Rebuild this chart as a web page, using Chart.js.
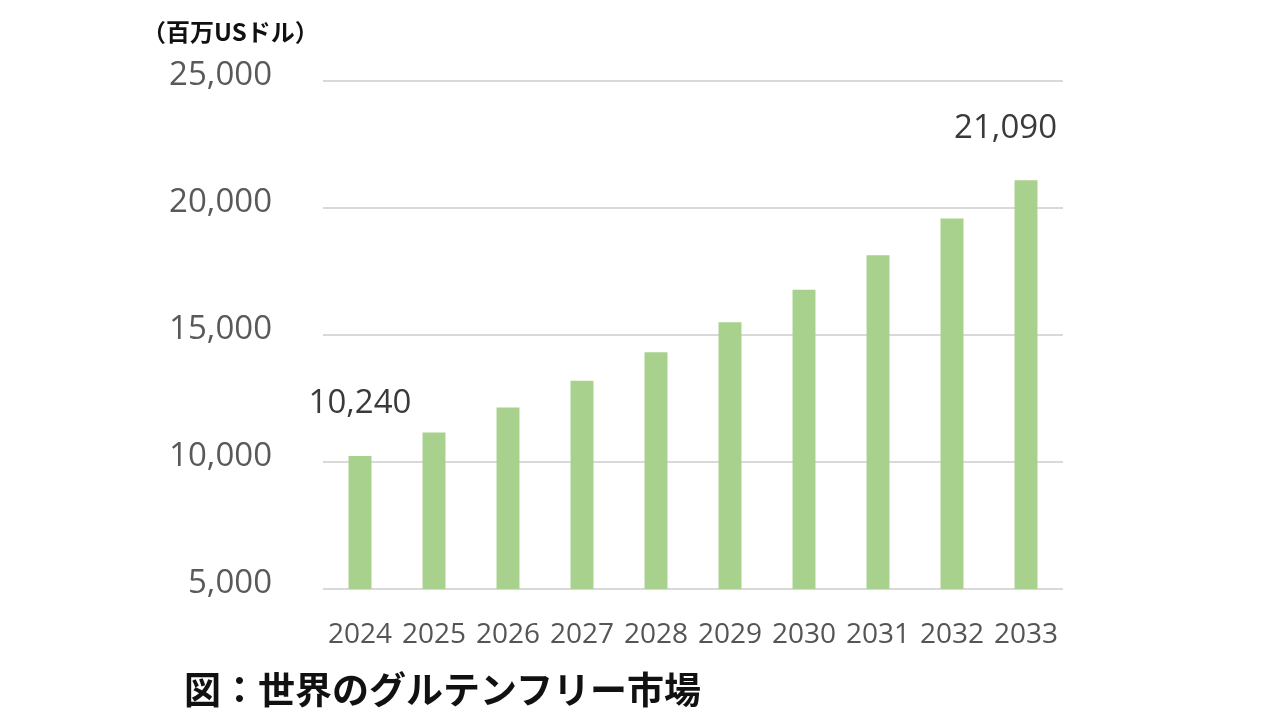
<!DOCTYPE html>
<html><head><meta charset="utf-8">
<script src="https://cdn.jsdelivr.net/npm/chart.js@4/dist/chart.umd.min.js"></script>
<style>
html,body{margin:0;padding:0;background:#fff;}
#wrap{position:relative;width:1280px;height:720px;}
#unit{position:absolute;left:142px;top:14px;font-family:"Noto Sans CJK JP";font-weight:700;font-size:24px;color:#111;line-height:34px;white-space:nowrap;}
#caption{position:absolute;left:184px;top:663px;font-family:"Noto Sans CJK JP";font-weight:700;font-size:37px;color:#111;line-height:50px;white-space:nowrap;}
canvas{position:absolute;left:0;top:0;}
</style></head><body>
<div id="wrap">
<canvas id="c" width="1280" height="720"></canvas>
<div id="unit">（百万USドル）</div>
<div id="caption">図：世界のグルテンフリー市場</div>
</div>
<script>
const years = ['2024','2025','2026','2027','2028','2029','2030','2031','2032','2033'];
const marketValues = [10240, 11160, 12150, 13200, 14320, 15500, 16780, 18140, 19590, 21090];
const valueLabels = ['10,240','','','','','','','','','21,090'];
const yTicks = [5000, 10000, 15000, 20000, 25000];

const labelPlugin = {
  id: 'valueLabels',
  afterDatasetsDraw(chart) {
    const ctx = chart.ctx;
    const meta = chart.getDatasetMeta(0);
    ctx.save();
    ctx.font = '33px "Open Sans"';
    ctx.fillStyle = '#3a3a3a';
    ctx.textAlign = 'center';
    ctx.textBaseline = 'middle';
    meta.data.forEach((bar, i) => {
      const t = valueLabels[i];
      if (!t) return;
      const w = ctx.measureText(t).width;
      let x = bar.x;
      if (x + w / 2 > chart.chartArea.right - 6) x = chart.chartArea.right - 6 - w / 2;
      ctx.fillText(t, x, bar.y - 52);
    });
    ctx.restore();
  }
};

new Chart(document.getElementById('c'), {
  type: 'bar',
  data: {
    labels: years,
    datasets: [{
      data: marketValues,
      backgroundColor: '#a9d18e',
      borderWidth: 0,
      barPercentage: 0.31,
      categoryPercentage: 1.0
    }]
  },
  options: {
    responsive: false,
    animation: false,
    devicePixelRatio: 1,
    layout: { padding: { top: 81, right: 217, bottom: 0, left: 0 } },
    plugins: { legend: { display: false }, tooltip: { enabled: false } },
    scales: {
      x: {
        grid: { display: false, drawTicks: false },
        border: { display: false },
        ticks: { color: '#555555', font: { family: 'Open Sans', size: 28 }, padding: 29, maxRotation: 0, autoSkip: false },
        afterFit(s) { s.height = 131; }
      },
      y: {
        min: 5000, max: 25000,
        afterBuildTicks(s) { s.ticks = yTicks.map(v => ({ value: v })); },
        grid: { color: '#d9d9d9', lineWidth: 2, drawTicks: false },
        border: { display: false },
        ticks: {
          color: '#595959', font: { family: 'Open Sans', size: 33 }, padding: 51, labelOffset: -5,
          callback: v => v.toLocaleString('en-US')
        },
        afterFit(s) { s.width = 323; }
      }
    }
  },
  plugins: [labelPlugin]
});
</script>
</body></html>
